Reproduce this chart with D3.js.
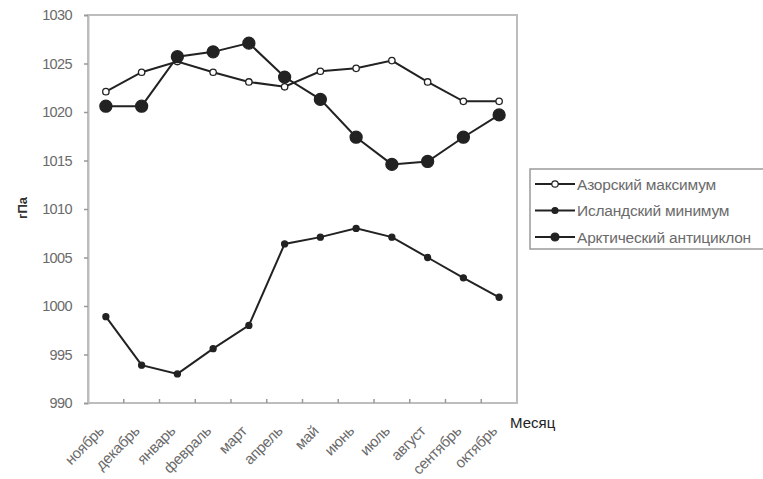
<!DOCTYPE html>
<html>
<head>
<meta charset="utf-8">
<script src="https://cdn.jsdelivr.net/npm/d3@7"></script>
<style>
  html, body { margin: 0; padding: 0; background: #fff; }
  svg { display: block; font-family: "Liberation Sans", Arial, sans-serif; }
</style>
</head>
<body>
<svg id="chart" width="763" height="479"></svg>
<script>
// Monthly mean sea-level pressure of the main atmospheric action centres, hPa
const months = ["ноябрь", "декабрь", "январь", "февраль", "март", "апрель",
                "май", "июнь", "июль", "август", "сентябрь", "октябрь"];
const azores  = [1022.1, 1024.1, 1025.2, 1024.1, 1023.1, 1022.6, 1024.2, 1024.5, 1025.3, 1023.1, 1021.1, 1021.1];
const iceland = [998.9, 993.9, 993.0, 995.6, 998.0, 1006.4, 1007.1, 1008.0, 1007.1, 1005.0, 1002.9, 1000.9];
const arctic  = [1020.6, 1020.6, 1025.7, 1026.2, 1027.1, 1023.6, 1021.3, 1017.4, 1014.6, 1014.9, 1017.4, 1019.7];
const yTicks  = [990, 995, 1000, 1005, 1010, 1015, 1020, 1025, 1030];

const series = [
  { name: "Азорский максимум",    values: azores,  r: 3.2, fill: "#fff" },
  { name: "Исландский минимум",   values: iceland, r: 3.0, fill: "#222" },
  { name: "Арктический антициклон", values: arctic, r: 6.0, fill: "#222" }
];

const svg = d3.select("#chart");
const plot = { left: 88, top: 15, right: 517, bottom: 403 };

const x = d3.scaleBand().domain(months).range([plot.left, plot.right]);
const y = d3.scaleLinear().domain([990, 1030]).range([plot.bottom, plot.top]);

// plot frame
svg.append("rect")
  .attr("x", plot.left).attr("y", plot.top)
  .attr("width", plot.right - plot.left).attr("height", plot.bottom - plot.top)
  .attr("fill", "none").attr("stroke", "#bdbdbd").attr("stroke-width", 2);

// y axis
const yAxis = svg.append("g")
  .attr("transform", `translate(${plot.left},0)`)
  .call(d3.axisLeft(y).tickValues(yTicks).tickSize(4).tickPadding(12).tickFormat(d3.format("d")));
yAxis.select(".domain").attr("stroke", "#bdbdbd").attr("stroke-width", 2);
yAxis.selectAll(".tick line").attr("stroke", "#999").attr("stroke-width", 1.5);
yAxis.selectAll(".tick text")
  .attr("fill", "#6a6a6a").style("font-size", "14.5px").style("letter-spacing", "-0.6px");

// x axis: ticks sit between categories
const xAxis = svg.append("g")
  .attr("transform", `translate(0,${plot.bottom})`);
xAxis.append("line")
  .attr("x1", plot.left).attr("x2", plot.right)
  .attr("stroke", "#bdbdbd").attr("stroke-width", 2);
xAxis.selectAll(".tk")
  .data(months.slice(1))
  .join("line")
  .attr("x1", d => x(d)).attr("x2", d => x(d))
  .attr("y1", 0).attr("y2", -4)
  .attr("stroke", "#999").attr("stroke-width", 1.5);
xAxis.selectAll(".lbl")
  .data(months)
  .join("text")
  .attr("transform", d => `translate(${x(d) + x.bandwidth() / 2 - 1},${29}) rotate(-45)`)
  .attr("text-anchor", "end")
  .attr("fill", "#6a6a6a")
  .style("font-size", "15px")
  .style("letter-spacing", "-0.3px")
  .text(d => d);

// axis titles
svg.append("text")
  .attr("transform", "translate(27,208) rotate(-90)")
  .attr("text-anchor", "middle")
  .attr("fill", "#333").style("font-size", "13px").style("font-weight", "bold")
  .text("гПа");
svg.append("text")
  .attr("x", 510).attr("y", 428)
  .attr("fill", "#222").style("font-size", "15px")
  .text("Месяц");

// series lines and markers
const line = d3.line()
  .x((d, i) => x(months[i]) + x.bandwidth() / 2)
  .y(d => y(d));

series.forEach(s => {
  const g = svg.append("g");
  g.append("path")
    .attr("d", line(s.values))
    .attr("fill", "none").attr("stroke", "#222").attr("stroke-width", 2);
  g.selectAll("circle")
    .data(s.values)
    .join("circle")
    .attr("cx", (d, i) => x(months[i]) + x.bandwidth() / 2)
    .attr("cy", d => y(d))
    .attr("r", s.r)
    .attr("fill", s.fill).attr("stroke", "#222").attr("stroke-width", 1.3);
});

// legend
const legend = svg.append("g");
legend.append("rect")
  .attr("x", 530).attr("y", 169).attr("width", 260).attr("height", 80)
  .attr("fill", "#fff").attr("stroke", "#9a9a9a").attr("stroke-width", 1.5);
const rowY = d3.scalePoint().domain(series.map(s => s.name)).range([184, 237]);
series.forEach(s => {
  const cy = rowY(s.name);
  legend.append("line")
    .attr("x1", 535).attr("x2", 575).attr("y1", cy).attr("y2", cy)
    .attr("stroke", "#222").attr("stroke-width", 2);
  legend.append("circle")
    .attr("cx", 555).attr("cy", cy).attr("r", Math.min(s.r, 4))
    .attr("fill", s.fill).attr("stroke", "#222").attr("stroke-width", 1.2);
  legend.append("text")
    .attr("x", 577).attr("y", cy + 5.5)
    .attr("fill", "#6a6a6a").style("font-size", "15.5px")
    .style("letter-spacing", "-0.2px")
    .text(s.name);
});
</script>
</body>
</html>
